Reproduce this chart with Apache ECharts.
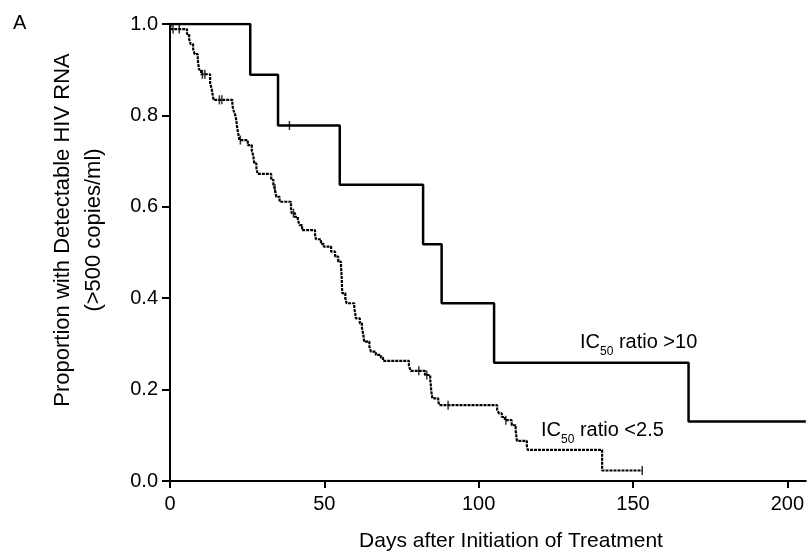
<!DOCTYPE html>
<html>
<head>
<meta charset="utf-8">
<script src="https://cdn.jsdelivr.net/npm/echarts@6/dist/echarts.min.js"></script>
<style>
html,body{margin:0;padding:0;background:#fff;}
#chart{width:807px;height:552px;}
</style>
</head>
<body>
<div id="chart"></div>
<script>
// ---- Data ----
var xTicks = [0, 50, 100, 150, 200];
var yTicks = [0.0, 0.2, 0.4, 0.6, 0.8, 1.0];

// IC50 ratio >10 group: event days and proportion after each event
var highDays = [0, 26, 35, 55, 82, 88, 105, 168];
var highSurv = [1.0, 0.889, 0.778, 0.648, 0.518, 0.389, 0.259, 0.130];
var highEndDay = 206;
var highCensorDays = [38.7];

// IC50 ratio <2.5 group: event days and proportion after each event
var lowDays = [0, 0.5, 5.5, 6.2, 6.7, 7.5, 8.0, 9.0, 9.2, 9.4, 10.1,
  13.0, 13.5, 13.8, 14.1, 20.2, 20.6, 21.2, 21.5, 21.7, 22.0, 22.5,
  25.2, 26.5, 27.0, 27.3, 28.0, 28.4, 32.8, 33.5, 33.9, 34.2, 34.4, 35.5,
  39.2, 39.4, 40.5, 41.4, 42.0, 42.8, 47.0, 47.3, 48.9, 49.8, 52.2, 53.5,
  54.5, 55.4, 55.6, 55.7, 55.8, 56.8, 57.2, 59.7, 60.0, 60.2, 61.5, 62.2,
  62.6, 62.8, 62.9, 64.6, 65.1, 66.7, 68.3, 69.0, 77.4, 78.0, 82.6, 84.3,
  84.5, 84.6, 85.0, 86.9, 87.3, 106.0, 106.6, 107.5, 108.5, 110.7, 112.0,
  112.2, 112.4, 115.6, 115.9, 140.0];
var lowSurv = [1.0, 0.989, 0.978, 0.967, 0.956, 0.945, 0.934, 0.922, 0.911, 0.900, 0.890,
  0.870, 0.858, 0.846, 0.834, 0.822, 0.811, 0.799, 0.788, 0.776, 0.764, 0.746,
  0.735, 0.723, 0.711, 0.695, 0.684, 0.672, 0.659, 0.648, 0.640, 0.631, 0.622, 0.611,
  0.598, 0.586, 0.578, 0.571, 0.560, 0.549, 0.538, 0.529, 0.519, 0.513, 0.502, 0.491,
  0.480, 0.469, 0.450, 0.430, 0.411, 0.400, 0.389, 0.378, 0.367, 0.356, 0.345, 0.334,
  0.322, 0.311, 0.305, 0.294, 0.283, 0.276, 0.270, 0.263, 0.252, 0.241, 0.232, 0.222,
  0.210, 0.199, 0.181, 0.174, 0.166, 0.155, 0.148, 0.140, 0.133, 0.122, 0.110,
  0.099, 0.088, 0.077, 0.068, 0.023];
var lowEndDay = 153;
var lowCensorDays = [1.0, 3.0, 10.5, 11.3, 16.0, 16.8, 22.8, 34.0, 40.0, 80.6, 83.2, 90.1, 108.8, 153.0];

// ---- Build series data ----
function stepData(days, surv, endDay) {
  var d = days.map(function (t, i) { return [t, surv[i]]; });
  d.push([endDay, surv[surv.length - 1]]);
  return d;
}
function valueAt(days, surv, t) {
  var v = surv[0];
  for (var i = 0; i < days.length; i++) { if (days[i] <= t) v = surv[i]; }
  return v;
}
function censorData(days, surv, cens) {
  return cens.map(function (t) { return [t, valueAt(days, surv, t)]; });
}

var FONT = 'Liberation Sans';
var chart = echarts.init(document.getElementById('chart'), null, {renderer: 'canvas'});
var richStyle = {
  a: {fontFamily: FONT, fontSize: 20, lineHeight: 22, verticalAlign: 'middle'},
  b: {fontFamily: FONT, fontSize: 12, lineHeight: 31, verticalAlign: 'bottom'}
};
var option = {
  animation: false,
  backgroundColor: '#ffffff',
  grid: {left: 170, right: 0, top: 24, bottom: 71, containLabel: false},
  xAxis: {
    type: 'value', min: 0, max: 206, interval: 50,
    axisLine: {show: true, lineStyle: {color: '#000', width: 2}},
    axisTick: {show: true, length: 7, lineStyle: {color: '#000', width: 2}},
    splitLine: {show: false},
    axisLabel: {color: '#000', fontFamily: FONT, fontSize: 20, margin: 13, showMaxLabel: false,
      formatter: function (v) { return xTicks.indexOf(v) >= 0 ? String(v) : ''; }}
  },
  yAxis: {
    type: 'value', min: 0, max: 1, interval: 0.2,
    axisLine: {show: true, lineStyle: {color: '#000', width: 2}},
    axisTick: {show: true, length: 8, lineStyle: {color: '#000', width: 2}},
    splitLine: {show: false},
    axisLabel: {color: '#000', fontFamily: FONT, fontSize: 20, margin: 12,
      formatter: function (v) { return v.toFixed(1); }}
  },
  graphic: [
    {type: 'text', left: 13, top: 13, style: {text: 'A', fontFamily: FONT, fontSize: 20, fill: '#000'}},
    {type: 'text', x: 78, y: 230, rotation: Math.PI / 2,
      style: {text: 'Proportion with Detectable HIV RNA\n(>500 copies/ml)', align: 'center', verticalAlign: 'middle',
        fontFamily: FONT, fontSize: 22, lineHeight: 31, fill: '#000'}},
    {type: 'text', x: 511, y: 541,
      style: {text: 'Days after Initiation of Treatment', align: 'center', verticalAlign: 'middle',
        fontFamily: FONT, fontSize: 21, fill: '#000'}},
    {type: 'text', x: 580, y: 342,
      style: {text: '{a|IC}{b|50}{a| ratio >10}', verticalAlign: 'middle', fill: '#000', rich: richStyle}},
    {type: 'text', x: 541, y: 430,
      style: {text: '{a|IC}{b|50}{a| ratio <2.5}', verticalAlign: 'middle', fill: '#000', rich: richStyle}}
  ],
  series: [
    {type: 'line', step: 'end', symbol: 'none', data: stepData(highDays, highSurv, highEndDay),
      lineStyle: {color: '#000', width: 2.5}, z: 3},
    {type: 'line', step: 'end', symbol: 'none', data: stepData(lowDays, lowSurv, lowEndDay),
      lineStyle: {color: '#000', width: 2.2, type: [3, 1]}, z: 3},
    {type: 'scatter', symbol: 'rect', symbolSize: [1.5, 9], data: censorData(highDays, highSurv, highCensorDays),
      itemStyle: {color: '#000'}, z: 4},
    {type: 'scatter', symbol: 'rect', symbolSize: [1.5, 9], data: censorData(lowDays, lowSurv, lowCensorDays),
      itemStyle: {color: '#000'}, z: 4}
  ]
};
chart.setOption(option);
</script>
</body>
</html>
